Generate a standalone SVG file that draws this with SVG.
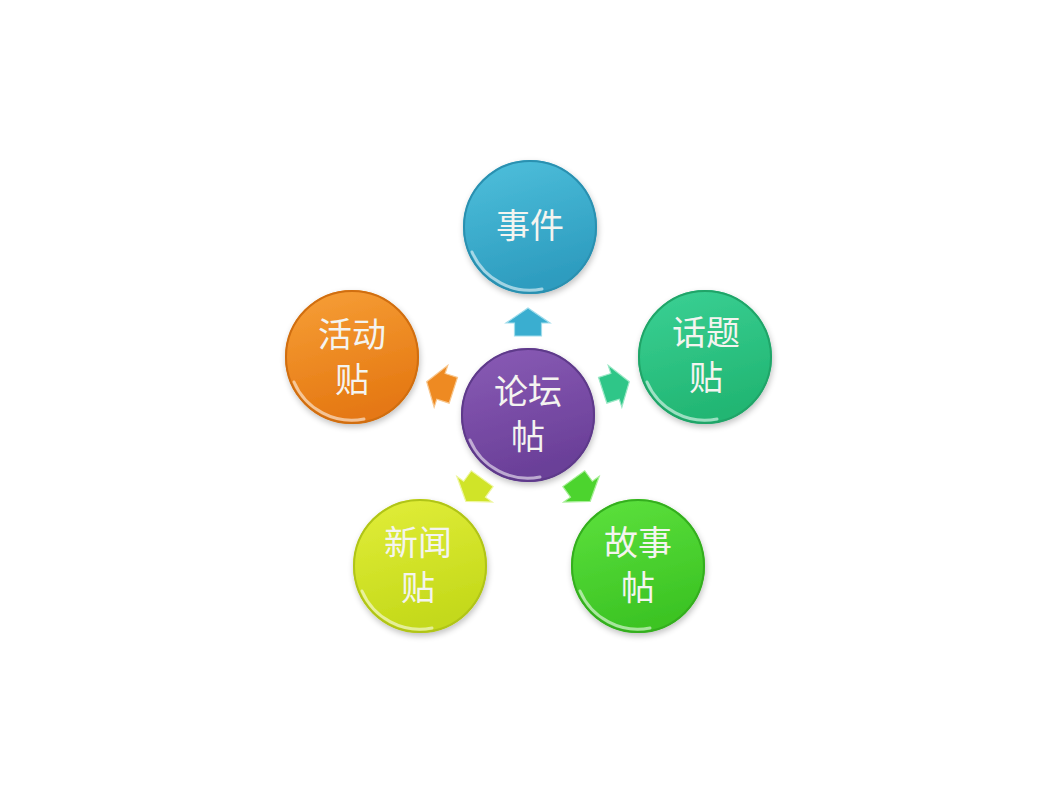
<svg xmlns="http://www.w3.org/2000/svg" width="1058" height="794" viewBox="0 0 1058 794">
<defs>
<style>
.lbl{font-family:"Noto Sans CJK SC","Noto Sans CJK JP",sans-serif;font-size:34px;fill:#F4F4F0;text-anchor:middle;}
.rim{fill:none;stroke-width:2;}
.hl{fill:none;stroke:#FFFFFF;stroke-width:3;stroke-opacity:0.55;stroke-linecap:round;}
.arr{stroke-width:1.2;stroke-linejoin:miter;}
</style>
<filter id="sh" x="-20%" y="-20%" width="140%" height="140%">
<feGaussianBlur in="SourceAlpha" stdDeviation="3"/>
<feOffset dx="1" dy="3" result="b"/>
<feComponentTransfer><feFuncA type="linear" slope="0.25"/></feComponentTransfer>
<feMerge><feMergeNode/><feMergeNode in="SourceGraphic"/></feMerge>
</filter>
<linearGradient id="gCyan" x1="0" y1="0" x2="0.3" y2="1"><stop offset="0" stop-color="#4FC0DC"/><stop offset="1" stop-color="#2D9CBF"/></linearGradient>
<linearGradient id="gTeal" x1="0" y1="0" x2="0.3" y2="1"><stop offset="0" stop-color="#3BD195"/><stop offset="1" stop-color="#22B673"/></linearGradient>
<linearGradient id="gOrange" x1="0" y1="0" x2="0.3" y2="1"><stop offset="0" stop-color="#F7A038"/><stop offset="1" stop-color="#E57812"/></linearGradient>
<linearGradient id="gPurple" x1="0" y1="0" x2="0.3" y2="1"><stop offset="0" stop-color="#8A5CB6"/><stop offset="1" stop-color="#6A3F98"/></linearGradient>
<linearGradient id="gYellow" x1="0" y1="0" x2="0.3" y2="1"><stop offset="0" stop-color="#E2EE3A"/><stop offset="1" stop-color="#C4D91A"/></linearGradient>
<linearGradient id="gGreen" x1="0" y1="0" x2="0.3" y2="1"><stop offset="0" stop-color="#5EE23E"/><stop offset="1" stop-color="#3CC424"/></linearGradient>
<path id="arrowShape" d="M0,-14 L22,1 L13.5,1 L13.5,14 L-13.5,14 L-13.5,1 L-22,1 Z"/>
</defs>
<rect width="1058" height="794" fill="#FFFFFF"/>

<g id="connectors">
<use href="#arrowShape" class="arr" transform="translate(528,322)" fill="#3AAED0" stroke="#9FDCEB"/>
<use href="#arrowShape" class="arr" transform="translate(616,386) rotate(72)" fill="#2FC688" stroke="#9CE8C6"/>
<use href="#arrowShape" class="arr" transform="translate(582,490) rotate(144)" fill="#4CD42E" stroke="#A8EE98"/>
<use href="#arrowShape" class="arr" transform="translate(474,490) rotate(216)" fill="#D0E428" stroke="#EEF6A0"/>
<use href="#arrowShape" class="arr" transform="translate(440,386) rotate(288)" fill="#EE8A22" stroke="#F8C890"/>
</g>

<g id="node-center">
<circle cx="528" cy="415" r="67" fill="url(#gPurple)" filter="url(#sh)"/>
<circle cx="528" cy="415" r="66" class="rim" stroke="#5E3A8A"/>
<path d="M470,440 A63,63 0 0 0 540,477" class="hl"/>
<text class="lbl" x="528" y="404">论坛</text>
<text class="lbl" x="528" y="449">帖</text>
</g>

<g id="node-top">
<circle cx="530" cy="227" r="67" fill="url(#gCyan)" filter="url(#sh)"/>
<circle cx="530" cy="227" r="66" class="rim" stroke="#2A90B0"/>
<path d="M472,252 A63,63 0 0 0 542,289" class="hl"/>
<text class="lbl" x="530" y="238">事件</text>
</g>

<g id="node-right">
<circle cx="705" cy="357" r="67" fill="url(#gTeal)" filter="url(#sh)"/>
<circle cx="705" cy="357" r="66" class="rim" stroke="#20A468"/>
<path d="M647,382 A63,63 0 0 0 717,419" class="hl"/>
<text class="lbl" x="706" y="345">话题</text>
<text class="lbl" x="706" y="390">贴</text>
</g>

<g id="node-left">
<circle cx="352" cy="357" r="67" fill="url(#gOrange)" filter="url(#sh)"/>
<circle cx="352" cy="357" r="66" class="rim" stroke="#D06E10"/>
<path d="M294,382 A63,63 0 0 0 364,419" class="hl"/>
<text class="lbl" x="352" y="347">活动</text>
<text class="lbl" x="352" y="392">贴</text>
</g>

<g id="node-bottom-left">
<circle cx="420" cy="566" r="67" fill="url(#gYellow)" filter="url(#sh)"/>
<circle cx="420" cy="566" r="66" class="rim" stroke="#B0C418"/>
<path d="M362,591 A63,63 0 0 0 432,628" class="hl"/>
<text class="lbl" x="418" y="555">新闻</text>
<text class="lbl" x="418" y="600">贴</text>
</g>

<g id="node-bottom-right">
<circle cx="638" cy="566" r="67" fill="url(#gGreen)" filter="url(#sh)"/>
<circle cx="638" cy="566" r="66" class="rim" stroke="#34AE1E"/>
<path d="M580,591 A63,63 0 0 0 650,628" class="hl"/>
<text class="lbl" x="638" y="555">故事</text>
<text class="lbl" x="638" y="600">帖</text>
</g>
</svg>
